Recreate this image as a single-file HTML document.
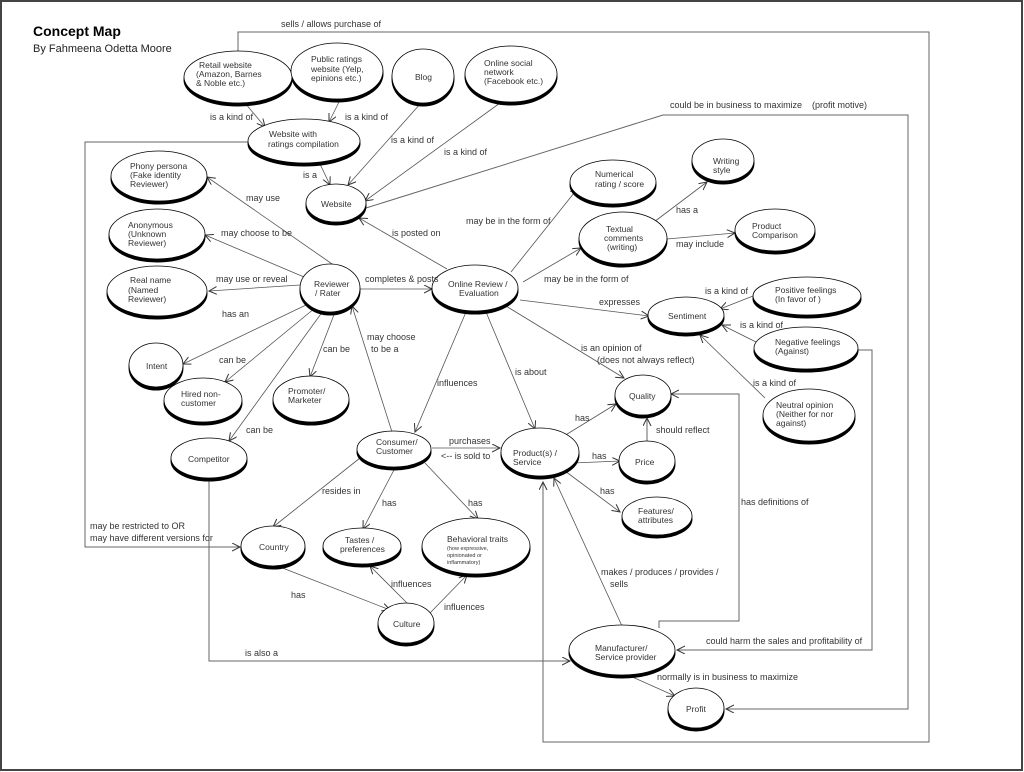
<!DOCTYPE html>
<html><head><meta charset="utf-8"><style>
html,body{margin:0;padding:0;background:#fff;}
svg{display:block;}
text{font-family:"Liberation Sans",Arial,sans-serif;fill:#333;}
.l{font-size:9px;}
.n{font-size:8.5px;fill:#222;}
</style></head><body>
<svg width="1024" height="772" viewBox="0 0 1024 772" xmlns="http://www.w3.org/2000/svg">
<defs>
<marker id="a" markerWidth="10" markerHeight="10" refX="8" refY="4" orient="auto" markerUnits="userSpaceOnUse">
<path d="M0,0 L8,4 L0,8" fill="none" stroke="#333" stroke-width="1"/>
</marker>
</defs>
<rect x="1" y="1" width="1021" height="769" fill="#fff" stroke="#444" stroke-width="2"/>
<text x="33" y="36" style="font-size:14px;font-weight:bold;fill:#000">Concept Map</text>
<text x="33" y="52" style="font-size:11px;fill:#222">By Fahmeena Odetta Moore</text>

<g stroke="#666" stroke-width="1" fill="none">
<!-- big loops -->
<polyline points="238,52 238,32 929,32 929,742 543,742 543,482" marker-end="url(#a)"/>
<polyline points="366,208 663,115 908,115 908,709 726,709" marker-end="url(#a)"/>
<polyline points="858,350 872,350 872,650 677,650" marker-end="url(#a)"/>
<polyline points="659,628 659,621 739,621 739,394 671,394" marker-end="url(#a)"/>
<polyline points="248,142 85,142 85,547 240,547" marker-end="url(#a)"/>
<polyline points="209,480 209,661 570,661" marker-end="url(#a)"/>
<line x1="647" y1="442" x2="647" y2="418" marker-end="url(#a)"/>
</g>
<g stroke="#555" stroke-width="0.8" fill="none" marker-end="url(#a)">
<line x1="245" y1="103" x2="265" y2="127"/>
<line x1="340" y1="100" x2="329" y2="122"/>
<line x1="421" y1="103" x2="348" y2="185"/>
<line x1="500" y1="103" x2="365" y2="201"/>
<line x1="320" y1="164" x2="330" y2="185"/>
<line x1="447" y1="269" x2="359" y2="218"/>
<line x1="335" y1="266" x2="207" y2="177"/>
<line x1="304" y1="277" x2="205" y2="235"/>
<line x1="300" y1="285" x2="209" y2="291"/>
<line x1="360" y1="289" x2="432" y2="289"/>
<line x1="308" y1="304" x2="183" y2="364"/>
<line x1="315" y1="308" x2="225" y2="382"/>
<line x1="335" y1="312" x2="310" y2="377"/>
<line x1="323" y1="311" x2="229" y2="441"/>
<line x1="392" y1="432" x2="352" y2="306"/>
<line x1="466" y1="312" x2="415" y2="432"/>
<line x1="486" y1="312" x2="535" y2="429"/>
<line x1="506" y1="306" x2="624" y2="378"/>
<line x1="520" y1="300" x2="649" y2="316"/>
<line x1="511" y1="272" x2="578" y2="188"/>
<line x1="523" y1="282" x2="581" y2="248"/>
<line x1="654" y1="222" x2="707" y2="182"/>
<line x1="667" y1="239" x2="735" y2="233"/>
<line x1="753" y1="296" x2="720" y2="309"/>
<line x1="758" y1="343" x2="722" y2="325"/>
<line x1="765" y1="398" x2="700" y2="335"/>
<line x1="432" y1="448" x2="500" y2="448"/>
<line x1="564" y1="436" x2="616" y2="404"/>
<line x1="573" y1="463" x2="620" y2="461"/>
<line x1="565" y1="471" x2="620" y2="512"/>
<line x1="360" y1="458" x2="273" y2="527"/>
<line x1="395" y1="468" x2="363" y2="529"/>
<line x1="425" y1="463" x2="478" y2="519"/>
<line x1="280" y1="567" x2="390" y2="610"/>
<line x1="408" y1="604" x2="370" y2="566"/>
<line x1="430" y1="613" x2="467" y2="575"/>
<line x1="622" y1="626" x2="554" y2="478"/>
<line x1="630" y1="676" x2="675" y2="696"/>
</g>

<g stroke="#000" stroke-width="1">
<!-- ellipses: shadow then body -->
<g fill="#000">
<ellipse cx="238" cy="80" rx="54" ry="26"/><ellipse cx="337" cy="74" rx="46" ry="28"/><ellipse cx="423" cy="79" rx="31" ry="27"/><ellipse cx="511" cy="77" rx="46" ry="28"/>
<ellipse cx="304" cy="144" rx="56" ry="22"/><ellipse cx="336" cy="206" rx="30" ry="19"/>
<ellipse cx="159" cy="179" rx="48" ry="25"/><ellipse cx="157" cy="237" rx="48" ry="25"/><ellipse cx="157" cy="294" rx="50" ry="25"/>
<ellipse cx="330" cy="291" rx="30" ry="24"/><ellipse cx="475" cy="291" rx="43" ry="23"/>
<ellipse cx="613" cy="185" rx="43" ry="22"/><ellipse cx="623" cy="241" rx="44" ry="26"/><ellipse cx="723" cy="163" rx="31" ry="21"/><ellipse cx="775" cy="233" rx="40" ry="21"/>
<ellipse cx="686" cy="318" rx="38" ry="18"/><ellipse cx="807" cy="299" rx="54" ry="19"/><ellipse cx="806" cy="351" rx="52" ry="21"/><ellipse cx="809" cy="418" rx="46" ry="26"/>
<ellipse cx="643" cy="398" rx="28" ry="20"/><ellipse cx="647" cy="464" rx="28" ry="20"/><ellipse cx="657" cy="519" rx="35" ry="19"/>
<ellipse cx="540" cy="455" rx="39" ry="24"/><ellipse cx="394" cy="452" rx="37" ry="18"/>
<ellipse cx="156" cy="368" rx="27" ry="22"/><ellipse cx="203" cy="403" rx="39" ry="22"/><ellipse cx="311" cy="402" rx="38" ry="23"/><ellipse cx="209" cy="461" rx="38" ry="20"/>
<ellipse cx="273" cy="549" rx="32" ry="20"/><ellipse cx="362" cy="549" rx="39" ry="18"/><ellipse cx="476" cy="549" rx="54" ry="28"/><ellipse cx="406" cy="626" rx="28" ry="20"/>
<ellipse cx="622" cy="653" rx="53" ry="25"/><ellipse cx="696" cy="711" rx="28" ry="20"/>
</g>
<g fill="#fff" stroke-width="0.8">
<ellipse cx="238" cy="77" rx="54" ry="26"/><ellipse cx="337" cy="71" rx="46" ry="28"/><ellipse cx="423" cy="76" rx="31" ry="27"/><ellipse cx="511" cy="74" rx="46" ry="28"/>
<ellipse cx="304" cy="141" rx="56" ry="22"/><ellipse cx="336" cy="203" rx="30" ry="19"/>
<ellipse cx="159" cy="176" rx="48" ry="25"/><ellipse cx="157" cy="234" rx="48" ry="25"/><ellipse cx="157" cy="291" rx="50" ry="25"/>
<ellipse cx="330" cy="288" rx="30" ry="24"/><ellipse cx="475" cy="288" rx="43" ry="23"/>
<ellipse cx="613" cy="182" rx="43" ry="22"/><ellipse cx="623" cy="238" rx="44" ry="26"/><ellipse cx="723" cy="160" rx="31" ry="21"/><ellipse cx="775" cy="230" rx="40" ry="21"/>
<ellipse cx="686" cy="315" rx="38" ry="18"/><ellipse cx="807" cy="296" rx="54" ry="19"/><ellipse cx="806" cy="348" rx="52" ry="21"/><ellipse cx="809" cy="415" rx="46" ry="26"/>
<ellipse cx="643" cy="395" rx="28" ry="20"/><ellipse cx="647" cy="461" rx="28" ry="20"/><ellipse cx="657" cy="516" rx="35" ry="19"/>
<ellipse cx="540" cy="452" rx="39" ry="24"/><ellipse cx="394" cy="449" rx="37" ry="18"/>
<ellipse cx="156" cy="365" rx="27" ry="22"/><ellipse cx="203" cy="400" rx="39" ry="22"/><ellipse cx="311" cy="399" rx="38" ry="23"/><ellipse cx="209" cy="458" rx="38" ry="20"/>
<ellipse cx="273" cy="546" rx="32" ry="20"/><ellipse cx="362" cy="546" rx="39" ry="18"/><ellipse cx="476" cy="546" rx="54" ry="28"/><ellipse cx="406" cy="623" rx="28" ry="20"/>
<ellipse cx="622" cy="650" rx="53" ry="25"/><ellipse cx="696" cy="708" rx="28" ry="20"/>
</g>
</g>

<g class="n">
<text x="199" y="68">Retail website</text><text x="196" y="77">(Amazon, Barnes</text><text x="196" y="86">&amp; Noble etc.)</text>
<text x="311" y="62">Public ratings</text><text x="311" y="72">website (Yelp,</text><text x="311" y="81">epinions etc.)</text>
<text x="415" y="80">Blog</text>
<text x="484" y="66">Online social</text><text x="484" y="75">network</text><text x="484" y="84">(Facebook etc.)</text>
<text x="269" y="137">Website with</text><text x="268" y="147">ratings compilation</text>
<text x="321" y="207">Website</text>
<text x="130" y="169">Phony persona</text><text x="130" y="178">(Fake identity</text><text x="130" y="187">Reviewer)</text>
<text x="128" y="228">Anonymous</text><text x="128" y="237">(Unknown</text><text x="128" y="246">Reviewer)</text>
<text x="130" y="283">Real name</text><text x="128" y="293">(Named</text><text x="128" y="302">Reviewer)</text>
<text x="314" y="287">Reviewer</text><text x="315" y="296">/ Rater</text>
<text x="448" y="287">Online Review /</text><text x="459" y="296">Evaluation</text>
<text x="595" y="177">Numerical</text><text x="595" y="187">rating / score</text>
<text x="606" y="232">Textual</text><text x="604" y="241">comments</text><text x="607" y="250">(writing)</text>
<text x="713" y="164">Writing</text><text x="713" y="173">style</text>
<text x="752" y="229">Product</text><text x="752" y="238">Comparison</text>
<text x="668" y="319">Sentiment</text>
<text x="775" y="293">Positive feelings</text><text x="775" y="302">(In favor of )</text>
<text x="775" y="345">Negative feelings</text><text x="775" y="354">(Against)</text>
<text x="776" y="408">Neutral opinion</text><text x="776" y="417">(Neither for nor</text><text x="776" y="426">against)</text>
<text x="629" y="399">Quality</text>
<text x="635" y="465">Price</text>
<text x="638" y="514">Features/</text><text x="638" y="523">attributes</text>
<text x="513" y="456">Product(s) /</text><text x="513" y="465">Service</text>
<text x="376" y="445">Consumer/</text><text x="376" y="454">Customer</text>
<text x="146" y="369">Intent</text>
<text x="181" y="397">Hired non-</text><text x="181" y="406">customer</text>
<text x="288" y="394">Promoter/</text><text x="288" y="403">Marketer</text>
<text x="188" y="462">Competitor</text>
<text x="259" y="550">Country</text>
<text x="345" y="543">Tastes /</text><text x="340" y="552">preferences</text>
<text x="447" y="542">Behavioral traits</text>
<text x="447" y="550" style="font-size:5.5px">(how expressive,</text><text x="447" y="557" style="font-size:5.5px">opinionated or</text><text x="447" y="564" style="font-size:5.5px">inflammatory)</text>
<text x="393" y="627">Culture</text>
<text x="595" y="651">Manufacturer/</text><text x="595" y="660">Service provider</text>
<text x="686" y="712">Profit</text>
</g>

<g class="l">
<text x="281" y="27">sells / allows purchase of</text>
<text x="210" y="120">is a kind of</text>
<text x="345" y="120">is a kind of</text>
<text x="391" y="143">is a kind of</text>
<text x="444" y="155">is a kind of</text>
<text x="303" y="178">is a</text>
<text x="670" y="108">could be in business to maximize</text>
<text x="812" y="108">(profit motive)</text>
<text x="246" y="201">may use</text>
<text x="221" y="236">may choose to be</text>
<text x="216" y="282">may use or reveal</text>
<text x="365" y="282">completes &amp; posts</text>
<text x="392" y="236">is posted on</text>
<text x="466" y="224">may be in the form of</text>
<text x="544" y="282">may be in the form of</text>
<text x="676" y="213">has a</text>
<text x="676" y="247">may include</text>
<text x="599" y="305">expresses</text>
<text x="705" y="294">is a kind of</text>
<text x="740" y="328">is a kind of</text>
<text x="753" y="386">is a kind of</text>
<text x="581" y="351">is an opinion of</text>
<text x="597" y="363">(does not always reflect)</text>
<text x="222" y="317">has an</text>
<text x="219" y="363">can be</text>
<text x="323" y="352">can be</text>
<text x="246" y="433">can be</text>
<text x="367" y="340">may choose</text>
<text x="371" y="352">to be a</text>
<text x="437" y="386">influences</text>
<text x="515" y="375">is about</text>
<text x="575" y="421">has</text>
<text x="656" y="433">should reflect</text>
<text x="449" y="444">purchases</text>
<text x="441" y="459">&lt;--  is sold to</text>
<text x="592" y="459">has</text>
<text x="600" y="494">has</text>
<text x="322" y="494">resides in</text>
<text x="382" y="506">has</text>
<text x="468" y="506">has</text>
<text x="90" y="529">may be restricted to OR</text>
<text x="90" y="541">may have different versions for</text>
<text x="291" y="598">has</text>
<text x="391" y="587">influences</text>
<text x="444" y="610">influences</text>
<text x="245" y="656">is also a</text>
<text x="741" y="505">has definitions of</text>
<text x="601" y="575">makes / produces / provides /</text>
<text x="610" y="587">sells</text>
<text x="706" y="644">could harm the sales and profitability of</text>
<text x="657" y="680">normally is in business to maximize</text>
</g>
</svg>
</body></html>
